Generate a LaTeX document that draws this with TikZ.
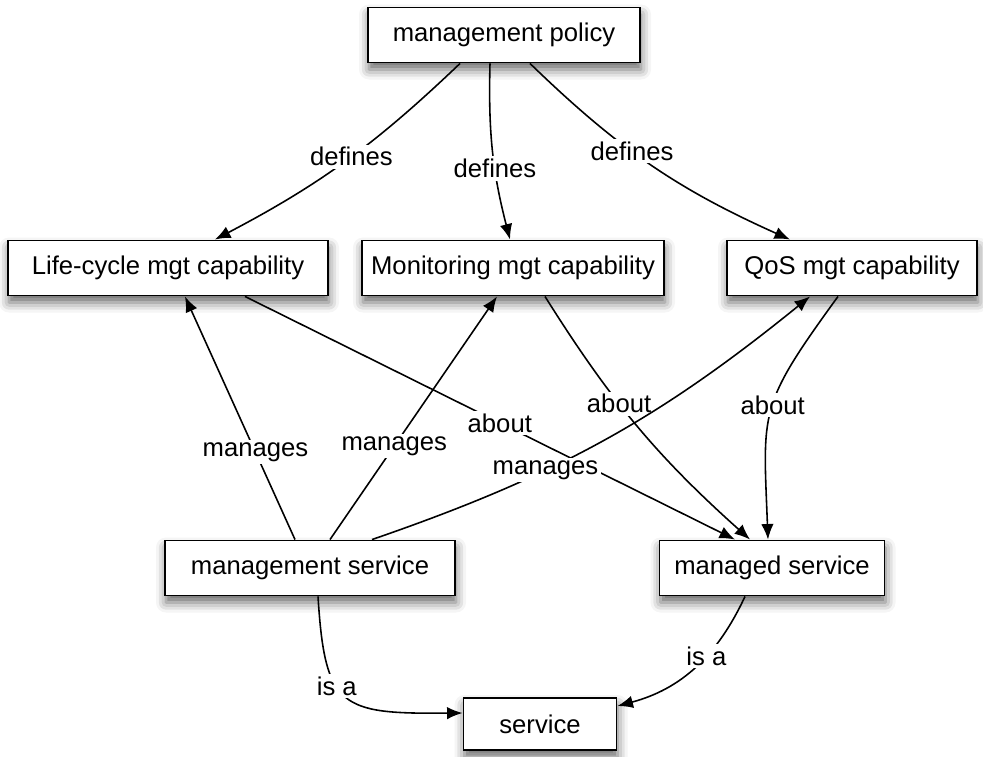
\documentclass[tikz,border=0pt]{standalone}
\usepackage{fontspec}
\setmainfont{Liberation Sans}
\usetikzlibrary{arrows.meta,shadows.blur}

\begin{document}
\begin{tikzpicture}[
  font=\fontsize{14.6}{17}\selectfont,
  bnode/.style={rectangle, draw=black, line width=1.1pt, fill=white, minimum height=1.1cm,
    blur shadow={shadow xshift=0.2mm, shadow yshift=-1.4mm, shadow blur radius=2mm, shadow opacity=60}},
  lbl/.style={fill=white, inner sep=1.5pt},
  arw/.style={-{Latex[length=3.1mm, width=2.5mm]}, line width=0.9pt}
  ]

\useasboundingbox (0,0) rectangle (19.66,-15.12);

\node [bnode, minimum width=5.44cm] (pol) at (10.08,-0.70) {management policy};
\node [bnode, minimum width=6.40cm] (life) at (3.36,-5.36) {Life-cycle mgt capability};
\node [bnode, minimum width=6.04cm] (mon) at (10.26,-5.36) {Monitoring mgt capability};
\node [bnode, minimum width=5.00cm] (qos) at (17.04,-5.36) {QoS mgt capability};
\node [bnode, minimum width=5.80cm] (msvc) at (6.20,-11.36) {management service};
\node [bnode, minimum width=4.50cm] (mdsvc) at (15.44,-11.36) {managed service};
\node [bnode, minimum width=3.06cm, minimum height=1.04cm] (svc) at (10.80,-14.48) {service};

% defines
\draw [arw] ([xshift=-0.88cm]pol.south) to[bend left=8] node [lbl, pos=0.47] {defines} ([xshift=0.94cm]life.north);
\draw [arw] ([xshift=-0.28cm]pol.south) to[bend right=8] node [lbl, pos=0.6] {defines} ([xshift=-0.06cm]mon.north);
\draw [arw] ([xshift=0.52cm]pol.south) to[bend right=10] node [lbl, pos=0.42] {defines} ([xshift=-1.24cm]qos.north);

% about
\draw [arw] ([xshift=1.54cm]life.south) -- node [lbl, pos=0.52] {about} ([xshift=-0.74cm]mdsvc.north);
\draw [arw] ([xshift=0.64cm]mon.south) to[bend right=8] node [lbl, pos=0.4] {about} ([xshift=-0.44cm]mdsvc.north);
\draw [arw] ([xshift=-0.28cm]qos.south) .. controls +(-1.6,-2.2) and +(-0.1,2.6) .. node [lbl, pos=0.47] {about} ([xshift=-0.08cm]mdsvc.north);

% manages
\draw [arw] ([xshift=-0.3cm]msvc.north) -- node [lbl, pos=0.36] {manages} ([xshift=0.34cm]life.south);
\draw [arw] ([xshift=0.4cm]msvc.north) -- node [lbl, pos=0.385] {manages} ([xshift=-0.32cm]mon.south);
\draw [arw] ([xshift=1.24cm]msvc.north) to[bend right=10] node [lbl, pos=0.36] {manages} ([xshift=-0.84cm]qos.south);

% is a
\draw [arw] ([xshift=0.16cm]msvc.south) .. controls +(0.14,-2.24) and +(-2.44,-0.02) .. node [lbl, pos=0.4] {is a} ([yshift=0.22cm]svc.west);
\draw [arw] ([xshift=-0.54cm]mdsvc.south) to[out=-115, in=15] node [lbl, pos=0.4] {is a} ([yshift=0.36cm]svc.east);

\end{tikzpicture}
\end{document}
